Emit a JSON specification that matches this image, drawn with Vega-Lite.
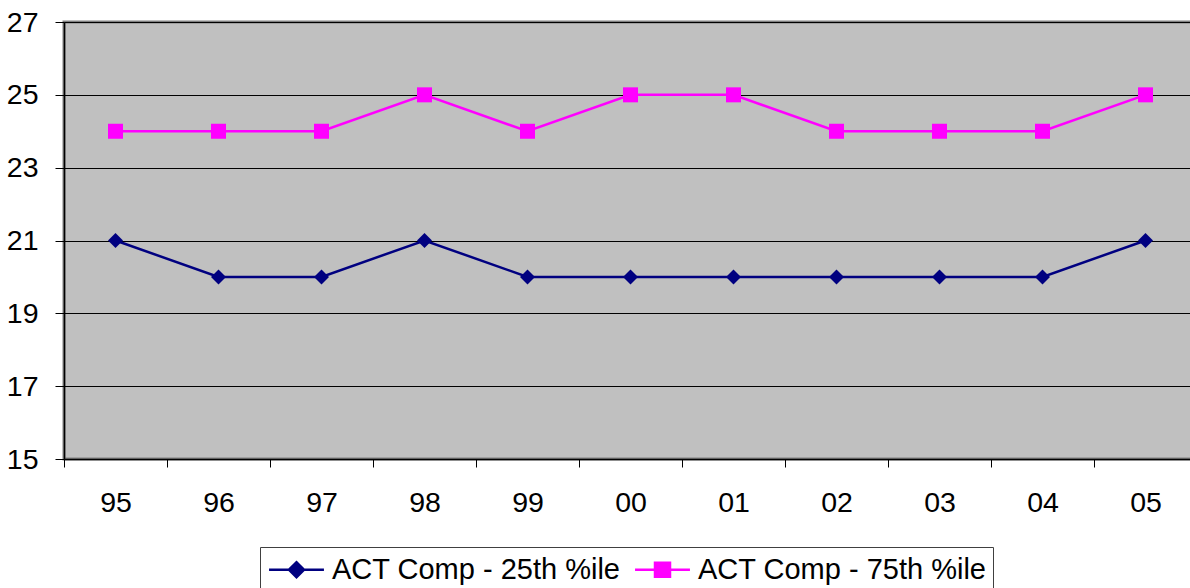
{
  "$schema": "https://vega.github.io/schema/vega-lite/v6.json",
  "autosize": {"type": "none"},
  "padding": {"left": 64, "top": 22, "right": 0, "bottom": 129},
  "width": 1133,
  "height": 437,
  "background": "white",
  "config": {
    "view": {"fill": "#C0C0C0", "stroke": "#808080", "strokeWidth": 3},
    "font": "Liberation Sans"
  },
  "data": {
    "values": [
      {"year": "95", "series": "ACT Comp - 25th %ile", "score": 21},
      {"year": "96", "series": "ACT Comp - 25th %ile", "score": 20},
      {"year": "97", "series": "ACT Comp - 25th %ile", "score": 20},
      {"year": "98", "series": "ACT Comp - 25th %ile", "score": 21},
      {"year": "99", "series": "ACT Comp - 25th %ile", "score": 20},
      {"year": "00", "series": "ACT Comp - 25th %ile", "score": 20},
      {"year": "01", "series": "ACT Comp - 25th %ile", "score": 20},
      {"year": "02", "series": "ACT Comp - 25th %ile", "score": 20},
      {"year": "03", "series": "ACT Comp - 25th %ile", "score": 20},
      {"year": "04", "series": "ACT Comp - 25th %ile", "score": 20},
      {"year": "05", "series": "ACT Comp - 25th %ile", "score": 21},
      {"year": "95", "series": "ACT Comp - 75th %ile", "score": 24},
      {"year": "96", "series": "ACT Comp - 75th %ile", "score": 24},
      {"year": "97", "series": "ACT Comp - 75th %ile", "score": 24},
      {"year": "98", "series": "ACT Comp - 75th %ile", "score": 25},
      {"year": "99", "series": "ACT Comp - 75th %ile", "score": 24},
      {"year": "00", "series": "ACT Comp - 75th %ile", "score": 25},
      {"year": "01", "series": "ACT Comp - 75th %ile", "score": 25},
      {"year": "02", "series": "ACT Comp - 75th %ile", "score": 24},
      {"year": "03", "series": "ACT Comp - 75th %ile", "score": 24},
      {"year": "04", "series": "ACT Comp - 75th %ile", "score": 24},
      {"year": "05", "series": "ACT Comp - 75th %ile", "score": 25}
    ]
  },
  "encoding": {
    "x": {
      "field": "year",
      "type": "nominal",
      "sort": ["95", "96", "97", "98", "99", "00", "01", "02", "03", "04", "05"],
      "scale": {"type": "band", "paddingInner": 0, "paddingOuter": 0},
      "axis": {
        "title": null,
        "labelAngle": 0,
        "labelFontSize": 28.5,
        "labelColor": "black",
        "labelPadding": 21,
        "tickBand": "extent",
        "tickSize": 8,
        "tickColor": "black",
        "domainColor": "black",
        "domainWidth": 1.5,
        "grid": false
      }
    },
    "y": {
      "field": "score",
      "type": "quantitative",
      "scale": {"domain": [15, 27], "nice": false, "zero": false},
      "axis": {
        "title": null,
        "values": [15, 17, 19, 21, 23, 25, 27],
        "labelFontSize": 28.5,
        "labelColor": "black",
        "labelPadding": 17,
        "tickSize": 9,
        "tickColor": "black",
        "domainColor": "black",
        "domainWidth": 1.5,
        "grid": true,
        "gridColor": "black",
        "gridWidth": 1,
        "gridOpacity": 1
      }
    },
    "color": {
      "field": "series",
      "type": "nominal",
      "scale": {
        "domain": ["ACT Comp - 25th %ile", "ACT Comp - 75th %ile"],
        "range": ["#000080", "#FF00FF"]
      },
      "legend": {
        "title": null,
        "orient": "none",
        "legendX": 196,
        "legendY": 525,
        "direction": "horizontal",
        "labelFontSize": 29,
        "labelColor": "black",
        "labelLimit": 400,
        "labelOffset": 19,
        "symbolOffset": 14,
        "columnPadding": 9,
        "symbolSize": 900,
        "symbolStrokeWidth": 2.5,
        "padding": 6,
        "strokeColor": "#404040",
        "fillColor": "white",
        "encode": {
          "symbols": {
            "update": {
              "fill": {"scale": "color", "field": "value"},
              "stroke": {"scale": "color", "field": "value"},
              "strokeWidth": {"value": 2.5},
              "opacity": {"value": 1},
              "shape": {"signal": "datum.value === 'ACT Comp - 25th %ile' ? 'M-1.83,0H1.83M-0.5,0L0,-0.5L0.5,0L0,0.5Z' : 'M-1.83,0H1.83M-0.5,-0.47H0.5V0.47H-0.5Z'"}
            }
          }
        }
      }
    }
  },
  "layer": [
    {
      "mark": {"type": "line", "strokeWidth": 2.5}
    },
    {
      "transform": [{"filter": "datum.series === 'ACT Comp - 25th %ile'"}],
      "mark": {"type": "point", "shape": "diamond", "filled": true, "size": 225, "opacity": 1}
    },
    {
      "transform": [{"filter": "datum.series === 'ACT Comp - 75th %ile'"}],
      "mark": {"type": "point", "shape": "square", "filled": true, "size": 225, "opacity": 1}
    }
  ]
}
